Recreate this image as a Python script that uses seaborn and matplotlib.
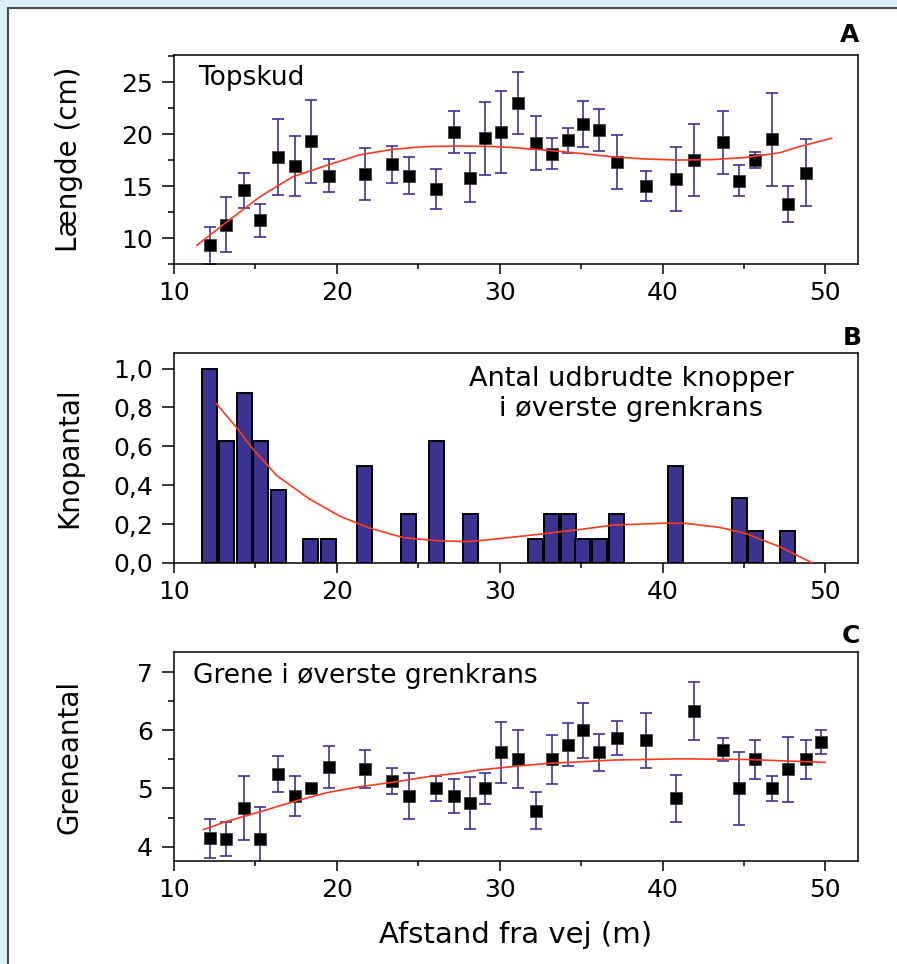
import numpy as np
import pandas as pd
import matplotlib
matplotlib.use('Agg')
import matplotlib.pyplot as plt
import seaborn as sns
from matplotlib.ticker import MultipleLocator, FixedLocator, FixedFormatter
from matplotlib.patches import Rectangle

# --- data ---
afstand = [12.2, 13.2, 14.3, 15.3, 16.4, 17.4, 18.4, 19.5, 21.7, 23.4, 24.4,
           26.1, 27.2, 28.2, 29.1, 30.1, 31.1, 32.2, 33.2, 34.2, 35.1, 36.1,
           37.2, 39.0, 40.8, 41.9, 43.7, 44.7, 45.7, 46.7, 47.7, 48.8, 49.7]

topskud = [9.3, 11.3, 14.6, 11.7, 17.8, 16.9, 19.3, 16.0, 16.2, 17.1, 16.0,
           14.7, 20.2, 15.8, 19.6, 20.2, 23.0, 19.1, 18.1, 19.4, 21.0, 20.4,
           17.3, 15.0, 15.7, 17.5, 19.2, 15.5, 17.5, 19.5, 13.3, 16.3, np.nan]
topskud_err = [1.75, 2.65, 1.7, 1.6, 3.65, 2.9, 4.0, 1.6, 2.5, 1.8, 1.8,
               1.9, 2.0, 2.35, 3.5, 3.9, 2.95, 2.6, 1.5, 1.2, 2.2, 2.0,
               2.6, 1.4, 3.1, 3.45, 3.0, 1.5, 0.8, 4.45, 1.75, 3.2, np.nan]

knopper = [1.0, 0.625, 0.875, 0.625, 0.375, 0, 0.125, 0.125, 0.5, 0, 0.25,
           0.625, 0, 0.25, 0, 0, 0, 0.125, 0.25, 0.25, 0.125, 0.125,
           0.25, 0, 0.5, 0, 0, 0.333, 0.167, 0, 0.167, 0, 0]

grene = [4.14, 4.13, 4.66, 4.13, 5.25, 4.87, 5.0, 5.37, 5.33, 5.13, 4.87,
         5.0, 4.87, 4.75, 5.0, 5.62, 5.5, 4.62, 5.5, 5.75, 6.0, 5.62,
         5.87, 5.83, 4.83, 6.33, 5.67, 5.0, 5.5, 5.0, 5.33, 5.5, 5.8]
grene_err = [0.34, 0.29, 0.55, 0.55, 0.31, 0.35, 0.0, 0.37, 0.33, 0.22, 0.4,
             0.22, 0.3, 0.45, 0.26, 0.53, 0.5, 0.32, 0.42, 0.37, 0.47, 0.32,
             0.3, 0.47, 0.4, 0.5, 0.2, 0.63, 0.34, 0.21, 0.56, 0.34, 0.21]

# fitted trend lines
fit_a_x = [11.4, 13.2, 15.3, 17.3, 19.4, 21.4, 23.5, 25.5, 27.5, 29.6, 30.8,
           32.9, 34.9, 37.0, 39.0, 41.0, 43.1, 45.1, 47.2, 48.4, 50.4]
fit_a_y = [9.3, 11.5, 14.0, 15.9, 17.0, 18.0, 18.55, 18.8, 18.85, 18.8, 18.7,
           18.45, 18.15, 17.8, 17.6, 17.5, 17.55, 17.75, 18.2, 18.8, 19.6]

fit_b_x = [12.6, 13.9, 14.7, 16.3, 18.3, 20.2, 22.0, 24.1, 26.1, 27.8, 28.8,
           31.6, 34.7, 37.0, 40.2, 41.5, 43.5, 45.1, 47.2, 49.2]
fit_b_y = [0.82, 0.69, 0.60, 0.45, 0.33, 0.24, 0.18, 0.13, 0.115, 0.11, 0.115,
           0.14, 0.17, 0.195, 0.205, 0.203, 0.183, 0.152, 0.083, 0.0]

fit_c_x = [11.8, 13.2, 15.3, 17.3, 19.4, 21.4, 23.5, 25.5, 27.6, 28.8, 31.2,
           32.9, 37.0, 41.0, 45.1, 50.0]
fit_c_y = [4.29, 4.43, 4.6, 4.77, 4.93, 5.03, 5.11, 5.2, 5.27, 5.32, 5.39,
           5.43, 5.49, 5.51, 5.5, 5.45]

knop_ticks = [0.0, 0.2, 0.4, 0.6, 0.8, 1.0]
knop_ticklabels = ['0,0', '0,2', '0,4', '0,6', '0,8', '1,0']

df = pd.DataFrame({'afstand': afstand, 'topskud': topskud, 'topskud_err': topskud_err,
                   'knopper': knopper, 'grene': grene, 'grene_err': grene_err})

# --- style ---
sns.set_style('ticks')
plt.rcParams['font.family'] = ['DejaVu Sans']
plt.rcParams['text.color'] = 'black'
plt.rcParams['axes.labelcolor'] = 'black'

ERR = '#3d3399'
BAR = '#3b3391'
FIT = '#ff3a1c'
TICK_FS = 18

fig = plt.figure(figsize=(8.97, 9.64), dpi=100, facecolor='#dcf0fb')
fig.add_artist(Rectangle((7.5 / 897, -0.01), 1.0, 1 - 7.5 / 964 + 0.01,
                         transform=fig.transFigure, facecolor='white',
                         edgecolor='#4d4d4d', lw=1.5, zorder=-5))

ax_a = fig.add_axes([0.194, 0.7261, 0.7625, 0.2168])
ax_b = fig.add_axes([0.194, 0.4160, 0.7625, 0.2178])
ax_c = fig.add_axes([0.194, 0.1068, 0.7625, 0.2168])


def style_axes(ax):
    ax.set_xlim(10, 52)
    ax.xaxis.set_major_locator(MultipleLocator(10))
    ax.xaxis.set_minor_locator(MultipleLocator(5))
    for s in ax.spines.values():
        s.set_visible(True)
        s.set_linewidth(1.1)
        s.set_color('black')
    ax.tick_params(axis='both', which='both', direction='out', width=1.1,
                   colors='black', labelsize=TICK_FS, top=False, right=False)
    ax.tick_params(axis='x', which='major', length=7, pad=5)
    ax.tick_params(axis='x', which='minor', length=3.5)
    ax.tick_params(axis='y', which='major', length=9, pad=6)
    ax.tick_params(axis='y', which='minor', length=4.5)
    ax.set_xlabel('')
    ax.yaxis.set_label_coords(-0.133, 0.5)


def points_with_errors(ax, y, yerr):
    ax.errorbar(df['afstand'], df[y], yerr=df[yerr], fmt='none', ecolor=ERR,
                elinewidth=1.2, capsize=4.5, capthick=1.2, zorder=2)
    sns.scatterplot(data=df, x='afstand', y=y, marker='s', s=85, color='black',
                    edgecolor='#333333', linewidth=0.5, ax=ax, zorder=3)


# A: Topskud
points_with_errors(ax_a, 'topskud', 'topskud_err')
sns.lineplot(x=fit_a_x, y=fit_a_y, color=FIT, lw=1.2, ax=ax_a, zorder=4)
ax_a.set_ylim(7.5, 27.6)
ax_a.yaxis.set_major_locator(MultipleLocator(5))
ax_a.yaxis.set_minor_locator(MultipleLocator(2.5))
style_axes(ax_a)
ax_a.set_ylabel('Længde (cm)', fontsize=20)
ax_a.text(0.035, 0.856, 'Topskud', transform=ax_a.transAxes, fontsize=19,
          ha='left', va='baseline')

# B: Knopantal (bars)
bars = df[df['knopper'] > 0]
ax_b.bar(bars['afstand'], bars['knopper'], width=0.92, color=BAR,
         edgecolor='black', linewidth=1.4, zorder=2)
sns.lineplot(x=fit_b_x, y=fit_b_y, color=FIT, lw=1.2, ax=ax_b, zorder=4)
ax_b.set_ylim(0, 1.08)
ax_b.yaxis.set_major_locator(FixedLocator(knop_ticks))
ax_b.yaxis.set_major_formatter(FixedFormatter(knop_ticklabels))
style_axes(ax_b)
ax_b.set_ylabel('Knopantal', fontsize=20)
ax_b.text(0.668, 0.805, 'Antal udbrudte knopper\ni øverste grenkrans',
          transform=ax_b.transAxes, fontsize=19.5, ha='center', va='center',
          multialignment='center', linespacing=1.2)

# C: Greneantal
points_with_errors(ax_c, 'grene', 'grene_err')
sns.lineplot(x=fit_c_x, y=fit_c_y, color=FIT, lw=1.2, ax=ax_c, zorder=4)
ax_c.set_ylim(3.75, 7.35)
ax_c.yaxis.set_major_locator(MultipleLocator(1))
ax_c.yaxis.set_minor_locator(MultipleLocator(0.5))
style_axes(ax_c)
ax_c.set_ylabel('Greneantal', fontsize=20)
ax_c.set_xlabel('Afstand fra vej (m)', fontsize=21)
ax_c.xaxis.set_label_coords(0.5, -0.287)
ax_c.text(0.028, 0.852, 'Grene i øverste grenkrans', transform=ax_c.transAxes,
          fontsize=19, ha='left', va='baseline')

# panel letters
for letter, (px, py) in {'A': (850, 35), 'B': (852, 338), 'C': (851, 636)}.items():
    fig.text(px / 897, 1 - py / 964, letter, fontsize=18, fontweight='bold',
             ha='center', va='center')

fig.savefig('out.png', dpi=100, facecolor=fig.get_facecolor())
